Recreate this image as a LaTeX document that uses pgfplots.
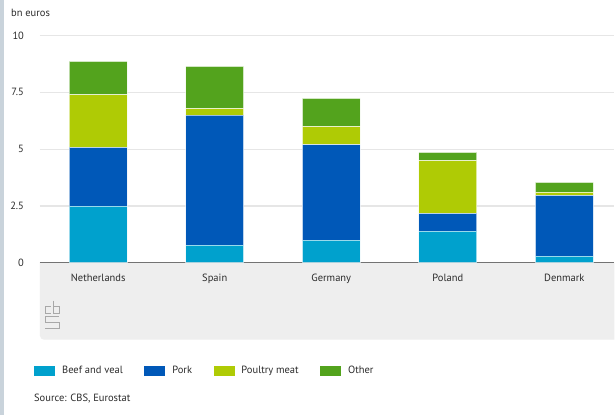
\documentclass[border=0pt]{standalone}
\usepackage{pgfplots}
\pgfplotsset{compat=1.18}
\usepackage{pgfplotstable}
\usepackage{fontspec}
\setmainfont{PT Sans}

\definecolor{beef}{HTML}{00A1CD}
\definecolor{pork}{HTML}{0058B8}
\definecolor{poultry}{HTML}{AFCB05}
\definecolor{other}{HTML}{53A31D}
\definecolor{band}{HTML}{EEEEEE}
\definecolor{stripe}{HTML}{C9D3DB}
\definecolor{gridc}{HTML}{E6E6E6}
\definecolor{txt}{HTML}{2B2B2B}
\definecolor{logo}{HTML}{A8A8A8}

% Meat exports by type, bn euros
\pgfplotstableread{
x beef pork poultry other
0 2.49 2.59 2.31 1.47
1 0.77 5.72 0.29 1.86
2 0.99 4.21 0.79 1.24
3 1.39 0.78 2.32 0.37
4 0.29 2.67 0.14 0.44
}\meat

\newcommand{\lbl}{\fontsize{10.5}{12}\selectfont}

\begin{document}
\begin{tikzpicture}
\fill[white] (0pt,0pt) rectangle (615pt,415pt);
\fill[stripe] (0pt,0pt) rectangle (4pt,415pt);
% grey panel behind the category labels
\fill[band] (615pt,152pt) -- (40pt,152pt) -- (40pt,79pt) arc[start angle=180,end angle=270,radius=4pt] -- (615pt,75pt) -- cycle;
% cbs logo, outlined strokes
\begin{scope}[draw=logo, line width=0.5pt, double=band, double distance=1.3pt, line cap=butt]
  \draw (51pt,108pt) -- (45pt,108pt) -- (45pt,101.5pt) -- (51pt,101.5pt);
  \draw (53.5pt,114pt) -- (53.5pt,101.5pt) -- (59pt,101.5pt) -- (59pt,108pt) -- (53.5pt,108pt);
  \draw (59pt,98.5pt) -- (45pt,98.5pt) -- (45pt,92pt) -- (59pt,92pt) -- (59pt,86pt) -- (45pt,86pt);
\end{scope}
\node[anchor=base west, inner sep=0pt, text=txt] at (11pt,398pt) {\lbl bn euros};
\node[anchor=base west, inner sep=0pt, text=txt] at (34pt,13pt) {\lbl Source: CBS, Eurostat};

\begin{axis}[
  at={(40pt,152pt)}, anchor=south west,
  scale only axis, width=575pt, height=227.5pt,
  xmin=-0.5, xmax=4.43, ymin=0, ymax=10,
  ybar stacked, bar width=58pt,
  axis x line=bottom, axis y line=left,
  axis line style={draw=none},
  ymajorgrids, grid style={gridc, line width=1.2pt},
  xtick={0,1,2,3,4},
  xticklabels={Netherlands,Spain,Germany,Poland,Denmark},
  ytick={0,2.5,5,7.5,10},
  yticklabels={0,2.5,5,7.5,10},
  major tick length=0pt,
  tick label style={font=\lbl, text=txt},
  xticklabel style={yshift=-8pt},
  yticklabel style={anchor=east, xshift=-12.5pt},
  every axis plot/.append style={draw=white, draw opacity=0.6, line width=0.8pt},
  legend columns=4,
  legend style={draw=none, fill=none, font=\lbl, text=txt, inner sep=0pt,
    at={(-0.0104,-0.4747)}, anchor=west,
    /tikz/every odd column/.append style={column sep=5pt},
    /tikz/every even column/.append style={column sep=19.5pt}},
  legend image code/.code={\fill[#1, draw=none] (0pt,-5pt) rectangle (21pt,5pt);},
]
\addplot[fill=beef] table[x=x, y=beef] {\meat};
\addlegendentry{Beef and veal}
\addplot[fill=pork] table[x=x, y=pork] {\meat};
\addlegendentry{Pork}
\addplot[fill=poultry] table[x=x, y=poultry] {\meat};
\addlegendentry{Poultry meat}
\addplot[fill=other] table[x=x, y=other] {\meat};
\addlegendentry{Other}
% baseline drawn over the bars
\draw[black!55, line width=1.3pt] (rel axis cs:0,0) -- (rel axis cs:1,0);
\end{axis}
\end{tikzpicture}
\end{document}
